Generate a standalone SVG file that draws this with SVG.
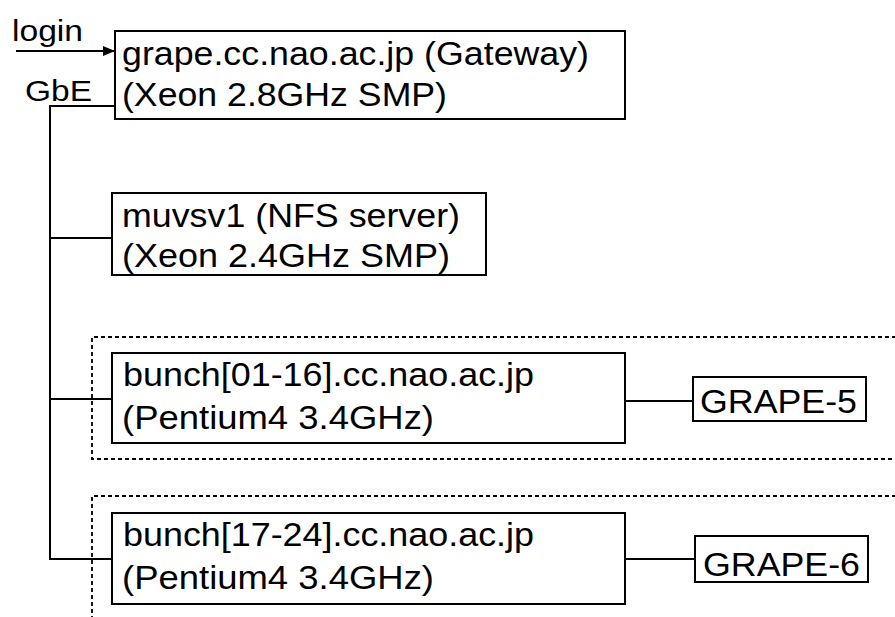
<svg xmlns="http://www.w3.org/2000/svg" width="895" height="617" viewBox="0 0 895 617">
<defs>
<style>
.box{fill:#fff;stroke:#000;stroke-width:2}
.grp{fill:none;stroke:#000;stroke-width:1.8;stroke-dasharray:4 3}
.ln{fill:none;stroke:#000;stroke-width:2}
text{font-family:"Liberation Sans",Arial,Helvetica,sans-serif;font-size:33px;fill:#000}
.lbl{font-size:30px}
</style>
<marker id="arr" viewBox="0 0 12 10" refX="12" refY="5" markerWidth="12" markerHeight="10" markerUnits="userSpaceOnUse" orient="auto">
<path d="M0,0 L12,5 L0,10 Z" fill="#000"/>
</marker>
</defs>
<rect width="895" height="617" fill="#fff"/>
<g id="groups">
<path class="grp" d="M896,337 H92 V459 H896"/>
<path class="grp" d="M896,496 H92 V618"/>
</g>
<g id="connectors">
<line class="ln" x1="16" y1="51" x2="115" y2="51" marker-end="url(#arr)"/>
<path class="ln" d="M115,106 H50 V559 H112"/>
<line class="ln" x1="50" y1="238" x2="112" y2="238"/>
<line class="ln" x1="50" y1="399" x2="112" y2="399"/>
<line class="ln" x1="625" y1="401" x2="693" y2="401"/>
<line class="ln" x1="625" y1="559" x2="695" y2="559"/>
</g>
<g id="labels">
<text class="lbl" x="12" y="41" textLength="71" lengthAdjust="spacingAndGlyphs">login</text>
<text class="lbl" x="25" y="101" textLength="67" lengthAdjust="spacingAndGlyphs">GbE</text>
</g>
<g id="gateway">
<rect class="box" x="115" y="31" width="510" height="88"/>
<text x="122" y="65" textLength="467" lengthAdjust="spacingAndGlyphs">grape.cc.nao.ac.jp (Gateway)</text>
<text x="122" y="106" textLength="325" lengthAdjust="spacingAndGlyphs">(Xeon 2.8GHz SMP)</text>
</g>
<g id="muvsv1">
<rect class="box" x="112" y="193" width="374" height="82"/>
<text x="122" y="227" textLength="338" lengthAdjust="spacingAndGlyphs">muvsv1 (NFS server)</text>
<text x="122" y="267" textLength="328" lengthAdjust="spacingAndGlyphs">(Xeon 2.4GHz SMP)</text>
</g>
<g id="bunch1">
<rect class="box" x="112" y="353" width="513" height="90"/>
<text x="123" y="386" textLength="411" lengthAdjust="spacingAndGlyphs">bunch[01-16].cc.nao.ac.jp</text>
<text x="122" y="429" textLength="312" lengthAdjust="spacingAndGlyphs">(Pentium4 3.4GHz)</text>
</g>
<g id="bunch2">
<rect class="box" x="112" y="513" width="513" height="91"/>
<text x="123" y="546" textLength="411" lengthAdjust="spacingAndGlyphs">bunch[17-24].cc.nao.ac.jp</text>
<text x="122" y="589" textLength="312" lengthAdjust="spacingAndGlyphs">(Pentium4 3.4GHz)</text>
</g>
<g id="grape5">
<rect class="box" x="693" y="377" width="173" height="44"/>
<text x="700" y="413" textLength="157" lengthAdjust="spacingAndGlyphs">GRAPE-5</text>
</g>
<g id="grape6">
<rect class="box" x="695" y="536" width="173" height="46"/>
<text x="703" y="576" textLength="157" lengthAdjust="spacingAndGlyphs">GRAPE-6</text>
</g>
</svg>
